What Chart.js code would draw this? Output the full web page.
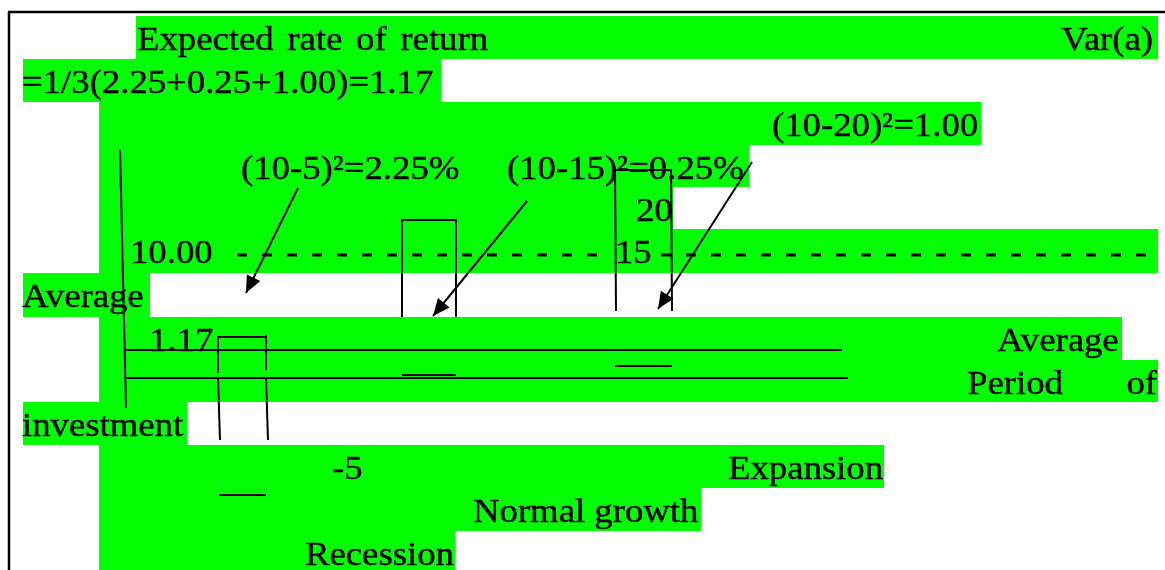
<!DOCTYPE html>
<html lang="en">
<head>
<meta charset="UTF-8">
<title>Expected rate of return and variance</title>
<script src="https://cdn.jsdelivr.net/npm/chart.js"></script>
<style>
  html, body { margin: 0; padding: 0; background: #ffffff; }
  canvas { display: block; }
</style>
</head>
<body>
<canvas id="returnSketch" width="1165" height="570"></canvas>
<script>
// --- values shown on the sketch ---
const states = ['Expansion', 'Normal growth', 'Recession'];
const returnLabels = ['-5', '15', '20'];
const averageLabel = '10.00';
const varianceLabel = '1.17';
const deviationLabels = ['(10-5)²=2.25%', '(10-15)²=0.25%', '(10-20)²=1.00'];
const varianceFormula = '=1/3(2.25+0.25+1.00)=1.17';

// --- page layout (both scales run in page units, y downwards) ---
const PAGE_W = 1165, PAGE_H = 570;
const rowTops = [16, 59, 102, 145, 187, 229, 273, 317, 360, 402, 445, 488, 531];
const rowBottom = i => (rowTops[i + 1] || PAGE_H);

// highlighted runs per text row: [row, left, right]
const highlightRuns = [
  [0, 136, 1158], [1, 23, 441], [2, 99, 981], [3, 99, 749], [4, 99, 673],
  [5, 99, 1158], [6, 23, 150], [7, 99, 1122], [8, 99, 1158], [9, 23, 187],
  [10, 99, 884], [11, 99, 701], [12, 99, 455]
];

// text runs: row, x, and optional right edge for justified / right aligned words
const textRuns = [
  { text: 'Expected rate of return', row: 0, x: 137, to: 488 },
  { text: 'Var(a)', row: 0, right: 1153 },
  { text: varianceFormula, row: 1, x: 22 },
  { text: deviationLabels[2], row: 2, x: 772 },
  { text: deviationLabels[0], row: 3, x: 241 },
  { text: deviationLabels[1], row: 3, x: 507 },
  { text: returnLabels[2], row: 4, x: 636 },
  { text: averageLabel, row: 5, x: 130 },
  { text: returnLabels[1], row: 5, x: 615 },
  { text: 'Average', row: 6, x: 22 },
  { text: varianceLabel, row: 7, x: 149 },
  { text: 'Average', row: 7, x: 997 },
  { text: 'Period of', row: 8, x: 967, to: 1157 },
  { text: 'investment', row: 9, x: 22 },
  { text: returnLabels[0], row: 10, x: 332 },
  { text: states[0], row: 10, x: 728 },
  { text: states[1], row: 11, x: 473 },
  { text: states[2], row: 12, x: 305 }
];

// frame of the text box
const frameLines = [
  [[8, 12], [1165, 12]],
  [[9, 12], [9, 570]]
];

// vertical axis and the two horizontal base lines
const axisLines = [
  [[120, 150], [126, 408]],
  [[125, 350], [842, 350]],
  [[125, 378], [848, 378]]
];

// outlined bars for recession, normal growth and expansion
const barLines = [
  [[218, 373], [218, 337], [266, 337]],
  [[266, 335], [266, 370]],
  [[218, 378], [220, 440]],
  [[266, 378], [268, 440]],
  [[219, 495], [266, 495]],
  [[402, 317], [402, 220], [456, 220], [456, 317]],
  [[402, 375], [456, 375]],
  [[616, 311], [615, 170], [671, 170], [672, 311]],
  [[615, 366], [672, 366]]
];

// dashed average line, broken where "15" sits on it
const averageLines = [
  [[237, 255], [612, 255]],
  [[661, 255], [1158, 255]]
];

// arrows from the squared deviations: [from, tip]
const arrows = [
  [[298, 188], [246, 293]],
  [[527, 201], [433, 316]],
  [[752, 162], [658, 309]]
];

const HIGHLIGHT = '#00ff00';
const INK = '#000000';
const FONT = '34px "Liberation Serif", "Times New Roman", serif';
const STRETCH = 1.08;

function toPoints(polylines) {
  const out = [];
  polylines.forEach(pl => {
    pl.forEach(([x, y]) => out.push({ x, y }));
    out.push({ x: NaN, y: NaN });
  });
  return out;
}

function lineSet(label, polylines, width, dash) {
  return {
    type: 'line',
    label,
    data: toPoints(polylines),
    borderColor: INK,
    borderWidth: width,
    borderDash: dash || [],
    borderCapStyle: 'butt',
    pointRadius: 0,
    tension: 0,
    spanGaps: false,
    fill: false
  };
}

const highlightPlugin = {
  id: 'highlights',
  beforeDatasetsDraw(chart) {
    const { ctx, scales: { x, y } } = chart;
    ctx.save();
    ctx.fillStyle = HIGHLIGHT;
    highlightRuns.forEach(([row, x0, x1]) => {
      const left = x.getPixelForValue(x0);
      const top = y.getPixelForValue(rowTops[row]);
      ctx.fillRect(left, top, x.getPixelForValue(x1) - left,
        y.getPixelForValue(rowBottom(row)) - top);
    });
    ctx.restore();
  }
};

// fill plus a hairline stroke, so the serif text reads as dark as print
function inkText(ctx, str, px) {
  ctx.fillText(str, px, 0);
  ctx.strokeText(str, px, 0);
}

const labelPlugin = {
  id: 'labels',
  afterDatasetsDraw(chart) {
    const { ctx, scales: { x, y } } = chart;
    ctx.save();
    ctx.font = FONT;
    ctx.fillStyle = INK;
    ctx.strokeStyle = INK;
    ctx.lineWidth = 0.45;
    ctx.textBaseline = 'alphabetic';

    textRuns.forEach(run => {
      const base = y.getPixelForValue(rowTops[run.row] + 33.5);
      ctx.save();
      if (run.right !== undefined) {
        ctx.translate(x.getPixelForValue(run.right), base);
        ctx.scale(STRETCH, 1);
        ctx.textAlign = 'right';
        inkText(ctx, run.text, 0);
      } else if (run.to !== undefined) {
        const x0 = x.getPixelForValue(run.x);
        const span = (x.getPixelForValue(run.to) - x0) / STRETCH;
        const words = run.text.split(' ');
        const widths = words.map(w => ctx.measureText(w).width);
        const gap = (span - widths.reduce((a, b) => a + b, 0)) / (words.length - 1);
        ctx.translate(x0, base);
        ctx.scale(STRETCH, 1);
        let cx = 0;
        words.forEach((w, i) => { inkText(ctx, w, cx); cx += widths[i] + gap; });
      } else {
        ctx.translate(x.getPixelForValue(run.x), base);
        ctx.scale(STRETCH, 1);
        inkText(ctx, run.text, 0);
      }
      ctx.restore();
    });

    // arrow heads
    arrows.forEach(([from, tip]) => {
      const fx = x.getPixelForValue(from[0]), fy = y.getPixelForValue(from[1]);
      const tx = x.getPixelForValue(tip[0]), ty = y.getPixelForValue(tip[1]);
      const ang = Math.atan2(ty - fy, tx - fx);
      const len = 17, half = 7.5;
      const bx = tx - len * Math.cos(ang), by = ty - len * Math.sin(ang);
      ctx.beginPath();
      ctx.moveTo(tx, ty);
      ctx.lineTo(bx + half * Math.sin(ang), by - half * Math.cos(ang));
      ctx.lineTo(bx - half * Math.sin(ang), by + half * Math.cos(ang));
      ctx.closePath();
      ctx.fill();
    });
    ctx.restore();
  }
};

const ctx = document.getElementById('returnSketch').getContext('2d');
new Chart(ctx, {
  type: 'line',
  data: {
    datasets: [
      lineSet('frame', frameLines, 2.5),
      lineSet('axes', axisLines, 2),
      lineSet('bars', barLines, 2),
      lineSet('average', averageLines, 3, [10, 15]),
      lineSet('arrows', arrows, 2)
    ]
  },
  options: {
    responsive: false,
    animation: false,
    devicePixelRatio: 1,
    events: [],
    layout: { padding: 0 },
    scales: {
      x: { type: 'linear', min: 0, max: PAGE_W, display: false },
      y: { type: 'linear', min: 0, max: PAGE_H, reverse: true, display: false }
    },
    plugins: {
      legend: { display: false },
      tooltip: { enabled: false }
    }
  },
  plugins: [highlightPlugin, labelPlugin]
});
</script>
</body>
</html>
